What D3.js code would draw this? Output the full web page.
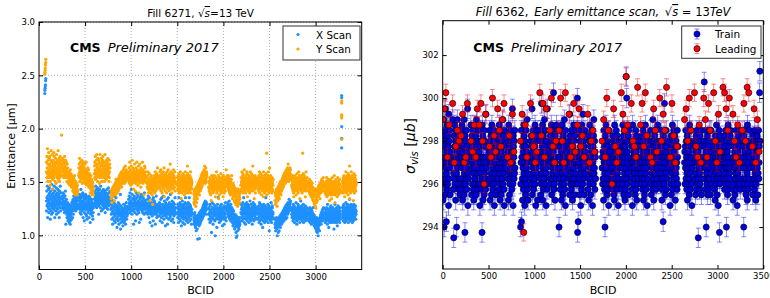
<!DOCTYPE html>
<html>
<head>
<meta charset="utf-8">
<script src="https://cdn.jsdelivr.net/npm/d3@7"></script>
<style>
  body { margin: 0; background: #fff; }
  text { font-family: "DejaVu Sans", sans-serif; fill: #000; }
</style>
</head>
<body>
<svg id="chart" width="770" height="298"></svg>
<script>
// one char per bunch, index into CODE, value = lo + idx * step
const CODE = "0123456789abcdefghijklmnopqrstuvwxyz";

// ---- Fill 6271 emittance (left) ----
const emitTrainStart = [80, 250, 430, 600, 780, 970, 1170, 1300, 1500, 1680, 1840, 2040, 2190, 2370, 2560, 2740, 2920, 3100, 3290];
const emitTrainEnd   = [240, 420, 590, 770, 960, 1160, 1290, 1480, 1660, 1820, 2030, 2180, 2360, 2540, 2730, 2910, 3090, 3270, 3440];
const xScanTrains = [
  "oiuqlxmerpkvnhsowjtlqdmuripgnykslohvqmtjrnxkpeuolqismwgrnkotjpvmhqlsrenuokxpimtq",
  "nrkpltjomsqkhnlriuoamkpjgelhnicfkdmgbjhelacfighkdnjmleoipgkrmnjtlqkosimnpjrlkqom",
  "mqkolsjphrnlvmgqkoinsltjemrkopchqmnjlsgpkrnfmdqjloihnkmrepjlqnbkgmoilhpjnkfldmhk",
  "psnuqlrxotmvkqspnwruolgtqmsvpnrkxotiqsmupnrjolvqtmkpsunhrqoltkpmvsnqjrowlptmnquo",
  "jmgkpdhlaioekhngrcjfmblhqdkig8eljhcnfkaimgdjhs7lbhfiekcgh9jdfmbigckhelajgnhdkfig",
  "lpjrnkhtmqiolvjngskmpilaqnjrohlmcpktnjgqlsmiorkhnbljpmqdknslroimhjqlnkpgtmjlohnk",
  "jmhplgkrinhejqlokbmjgtihlkn9jfmphkcqjligonkhmajljgrkiemhjlkf",
  "ilfnjhcmkpgiejqhbkmilfrjdhoigkl9njfmhekpiagljqmdhkngiefsjlhcmkiogjdlhnkbfjmhiqgk",
  "hkemgjblhqfidjnhgckmfi9lhjeogkbfhmdjlihagkneqjhfcmkgidlhjbgnehkfqimcgjhlkdfiahjg",
  "ecgbahdf9c8bea6cdbfa7ec1bdacegbf9dhcafegbdihcfeigdjfhekgilhfjmgkinhjlkoimjlkgnjm",
  "gkdjhmbfliceh5jgnekhadgmjfihcl3gkdjfh8ekmgiqhdfjbhkgelcifhmdjg9kehijgfaldhkgnejc",
  "iljkgnhmfkhjeoigldhkfjcmgehidkfgbjeh9fdgiacfeb7dcg8ebda5cfb9d3bca6ecb8adc7be9bac",
  "hmejgkclhnfidjqhgbkmeihajlgdfnhkcjimgehlbkgfjdoghcimjekhfagljdnhicgkmfjhleidkgjh",
  "gkdiheljbgnfcjhmgkadifelgh8jckgmeihfbkdlgjqcehgifdkhmbegjlh6fdkgicjehngbiflkdghe",
  "a8d6bc9e7ba3c8db5a9ce6bdcfa8dbegcadfhbecgidfhcjegkfihdlgjkhmeilgknjhmlkpimjlnkoj",
  "gjeikfhcmgdhjlfbigkehdnjgfacihkgmeljdhfigbkhjeodgilfhcjkgehmbfidjgkhflcegjihkdfg",
  "fhcjgdiekbghfcjdaegichdfkbegcd9fbeac8db7ac6e9b5d8a3c7b9da6cebdfcgaehdfigcjehfkgd",
  "ehbjgcfidkhegamfchjd8giefbkhcgeljdfibhegckfhdj7gibemdfhcjgekbfi9ehdlgcjfehkbgifd",
  "gkeihlcfjmgdhkbfiegjnhcgkdlfihmegjbhkfdigpeljhcgkimdfhjegbkilhfcgjmdheikfgjlhdgi"
];
const yScanTrains = [
  "mrjuolyhqsmkwnjtpluqhfoskmxjrnlvdpimsqkowjunlrphmtqlgovkrjmsnlqxiopktmhrjnuloqsk",
  "pqmtnkrosjmqlunpkosmjrlmnhqkoljmghkmiljfkhnigjlhekgjficgdhjebifkcgeahdbfcgeadfbc",
  "kolqjtmhnrkpmilojsnkgqmlprjhmkoinlqgjmkhrlnfjmikgolhjnkeihlfgjbhdkfegciafhbgdcea",
  "lpjrnuimqkslvjopmhtnlqksrmgjovlnpkmtqhrnljsupkolmrhqjnvlpmkoisnlrjqmtknpolhsjmqo",
  "a8cb6dacb9ecadbfc7ebdgaeifchdgbfheicgjdhfkegilfhjgmeikhjglkniholjgkmipjhlnkjmlik",
  "jmhokgrilnjfpkimhsgkolidjnmhqkiclgojmhrinkfljpibmgkqhlnjeomkhilrjgnkhmajlpiokhmj",
  "gjekhmdfibhgclhe7fjdgbhkeicagd5fchjgeidkbhfmjcgiehlfkdjohe",
  "gkeihmdjfnhcgklbiejhfmdkgo9jihcfleghjbkmidgfnhjekcilhgqjdfmehkbigjlfhdnkgiejmhcg",
  "fjdhgkcielfbhgjdmfiec8ghkbjfeidlhgcfjkaeihgmdbhfjcgkeiplhdfbgjheicfkgdhmjebifghd",
  "6a8c5b79d7ac4b9ec6adb8fcaedgbfcehdagfiechgjdfkhegilfhjkgmihlkjnilhpkjmgliokhjmlk",
  "ehcgdjbfiaeh7gkcfdjhbegicfkdhe9gjdfmbhecigdkf8heajgcidhlfbegjcfhd9kiegbdhfjcegin",
  "hkfjgidhkegcjfhbidgeahfcgdibkefca8dgecb9fdac7ebd6ca9bd5c8a7bd9c6a4b8d5ac7b9a6c8b",
  "fjdhgmcieklbfhgjdnfhcgiekbfjhdmgl9iefhcjgkdhbifmegjhcledgfkiphcgjeh8fidkgbhejgfi",
  "fidjhgckemfbhjgdlfieaghkcjfdhgm9eifbkhcgjdhleifagcjhkdfmgibheojcfdkhgiefbjhdgcfi",
  "7b5a9c6d8ba4cb7ed9acfb8dgcebhdafgcehidfjgekhfigljhkmgilkjnhmlkiojmqlkhnjlmkoilnj",
  "fiehkdgcjfb9hgeidkfhcjgaefhldgicjbfhmegkdf8hjeigcfkdhbjgeiflhcgdkejfh9gidmcefhjg",
  "ehcgfdbiecagdhf9cebdga8ec7bd9a6c5b7a4d3b8c6a9b7dac9ebdfaceb8dgcfbhdeicgfedhgjcfe",
  "cfbegadhcjb9fdgeciahbdfc7ebgdiacfh8bdejcgafbdhcekbf6adgcifbhed9gcjfbaehdcgbifcdb",
  "ehcgfjbidkegh9fcjhdgmeibfhckdgjeialhfcgkdp8hejgbficmhdgekfjhcgi7delhfbjgdkehicfg"
];
// first bunches and the late group, read one by one
const earlyBcid = [62, 64, 66, 68, 70, 72, 74];
const xEarly = [2.33, 2.36, 2.38, 2.40, 2.41, 2.45, 2.47];
const yEarly = [2.51, 2.53, 2.55, 2.57, 2.60, 2.62, 2.65];
const lateBcid = 3283;
const xLate = [1.82, 1.91, 2.02, 2.29, 2.31];
const yLate = [1.90, 2.10, 2.12, 2.13, 2.24, 2.26];
const yStray = [[245, 1.94], [2470, 1.77], [2860, 1.77]];
const xStray = [[1740, 0.97], [2140, 0.98]];

// ---- Fill 6362 sigma_vis (right) ----
const visTrainStart = [0, 200, 400, 600, 850, 1060, 1270, 1470, 1740, 1950, 2160, 2370, 2640, 2850, 3060, 3270];
const visTrainEnd   = [190, 390, 590, 790, 1040, 1250, 1460, 1670, 1930, 2140, 2350, 2570, 2830, 3040, 3250, 3465];
const visBatchGap = 22; // empty BCIDs between the two batches of a train
const trainTrains = [
  "g9lcjo4hdmaqfke5ibngclhj8pdkfmaigobhe2ldjncgk9mhe4ifoclgkbhjdmai",
  "hbkdnfi9mcgjaoeh3lckfhdmbjgq8eidnhkaflcjgmbe9hkfndiclgaohjebkfmc",
  "ic8jemgkbhd3nfl9hgcjamekdhbpgjfcidmh9kgleacngihbdfjmc8kehglaidjf",
  "jdlfhbnegk9chmaikfdjgoclehb8jmfgkdih9nelacjgfmdkhibeqgc8ljhdkemf",
  "4cgm5hkd9jfibnelg8khdajmcfiogbe9hkdlcgjqaihfmebkgdjnch8ifkegl9mh",
  "gkdmaicrehjn9flbgkdohcjimf8ekhbqgdjlcihnakdgfmeithbjck9lgfhdnemj",
  "4hdkfbjmci9gnekahfldjcogbh8mkeigdjfaplhcgkbmdie9hjcfnkgdalihemcg",
  "s3c5igdmahkfj8elbnihgcpdkfjahmeigbld9khcnfjgakeimdh8gjcloefkbihd",
  "fhcidk9mgjbe4lhcnifgdakjbhe8mgcifjdlbkhgae9nidfjchmkgbleih8djgfc",
  "ibkfhcnjdlagmeh9jbkfwdsgickehlamfdjgb8nkhcifejhgdakmbli9gchfjdke",
  "fjcheldgbkmi9fhdajcgnekbhfi8ldjgcmhkaeifgbojdk9hclemfgibjhcdkfne",
  "hkcgemdj9bfih5ldkcrhfgaiembjdhkf8gcilaejhnbfkdmgiclh9jekfdgbmhcj",
  "gicjfmdkhbel9jgcfidahnkegbjmhc8fkdjgiaelbhmkcgdi2jfhkbelcgjdfamh",
  "hkvdjgbmfi4ekcgladhjbfmdkgieacmhjdfkbg9lhiecnfkajdg8ihem3cflhdgj",
  "gkdhiebljfcmgh4dkfiabnhcjgfekdlmb9hgcjfiakdemhgbjf8ckeilhdgmfjcb",
  "hdkfjg4lcmbigkdafjhe9nckgbidhmfjcaligkdhfbmekj9cghdlfiaekmdgjtxk"
];
const leadingTrains = [
  "oqthnrgjmk", "lpghrkinhq", "nrkcpjhsli", "qmjorhlgpi",
  "kp3nhrljgi", "tlrhqmsjgk", "mskgtphjri", "nqjlhpgkmi",
  "kohsmcqjgi", "tpmwnrkjhu", "nrjtlhgqmi", "skpmuhrlgj",
  "oqksmtjhng", "sohrmtkgpi", "utqmspkhng", "mrkutjqgoi"
];
const trainErr = 0.45;
const leadingErr = 0.4;

// spread each train's bunches from start to end; the second half sits after a gap
function unpack(starts, ends, strings, lo, step, gap) {
  const out = [];
  gap = gap || 0;
  strings.forEach(function(s, t) {
    const n = s.length;
    for (let i = 0; i < n; i++) {
      const second = gap && i >= n / 2 ? gap : 0;
      out.push({
        bcid: starts[t] + (ends[t] - starts[t] - gap) * i / (n - 1) + second,
        value: lo + CODE.indexOf(s[i]) * step
      });
    }
  });
  return out;
}

const xScan = unpack(emitTrainStart, emitTrainEnd, xScanTrains, 0.95, 0.0155)
  .concat(earlyBcid.map(function(b, i) { return {bcid: b, value: xEarly[i]}; }))
  .concat(xLate.map(function(v) { return {bcid: lateBcid, value: v}; }))
  .concat(xStray.map(function(d) { return {bcid: d[0], value: d[1]}; }));
const yScan = unpack(emitTrainStart, emitTrainEnd, yScanTrains, 1.20, 0.018)
  .concat(earlyBcid.map(function(b, i) { return {bcid: b, value: yEarly[i]}; }))
  .concat(yLate.map(function(v) { return {bcid: lateBcid, value: v}; }))
  .concat(yStray.map(function(d) { return {bcid: d[0], value: d[1]}; }));
const train = unpack(visTrainStart, visTrainEnd, trainTrains, 293, 0.25, visBatchGap);
const leading = unpack(visTrainStart, visTrainEnd.map(function(e) { return e - 12; }), leadingTrains, 293, 0.25, visBatchGap);

const svg = d3.select("#chart");

function drawAxes(g, x, y, box, xVals, yVals, yFmt) {
  const fnt = function(sel) {
    sel.attr('font-family', '"DejaVu Sans", sans-serif').attr('font-size', 8.5);
    sel.select('.domain').remove();
    sel.selectAll('.tick line').attr('stroke', '#000');
    sel.selectAll('.tick text').attr('fill', '#111');
  };
  g.append('g').attr('transform', 'translate(0,' + box.y1 + ')')
    .call(d3.axisBottom(x).tickValues(xVals).tickSize(-4).tickPadding(4).tickFormat(d3.format('d'))).call(fnt);
  g.append('g').attr('transform', 'translate(0,' + box.y0 + ')')
    .call(d3.axisTop(x).tickValues(xVals).tickSize(-4).tickFormat('')).call(fnt);
  g.append('g').attr('transform', 'translate(' + box.x0 + ',0)')
    .call(d3.axisLeft(y).tickValues(yVals).tickSize(-4).tickPadding(4).tickFormat(yFmt)).call(fnt);
  g.append('g').attr('transform', 'translate(' + box.x1 + ',0)')
    .call(d3.axisRight(y).tickValues(yVals).tickSize(-4).tickFormat('')).call(fnt);
  g.append('rect')
    .attr('x', box.x0).attr('y', box.y0)
    .attr('width', box.x1 - box.x0).attr('height', box.y1 - box.y0)
    .attr('fill', 'none').attr('stroke', '#000').attr('stroke-width', 1);
}

function cmsLabel(g, x, y, gap) {
  const t = g.append('text').attr('x', x).attr('y', y);
  t.append('tspan').attr('font-weight', 'bold').attr('font-size', 12.5).text('CMS');
  t.append('tspan').attr('dx', gap).attr('font-style', 'italic').attr('font-size', 13).text('Preliminary 2017');
}

// ================= left: emittance =================
const boxL = {x0: 39, x1: 361.7, y0: 22, y1: 269.5};
const xL = d3.scaleLinear().domain([0, 3500]).range([boxL.x0, boxL.x1]);
const yL = d3.scaleLinear().domain([0.68, 3.0]).range([boxL.y1, boxL.y0]);
const gL = svg.append('g');
const xTicksL = [0, 500, 1000, 1500, 2000, 2500, 3000];
const yTicksL = [1.0, 1.5, 2.0, 2.5, 3.0];

// grid
gL.selectAll('line.gx').data(xTicksL.slice(1)).enter().append('line')
  .attr('x1', function(d) { return xL(d); }).attr('x2', function(d) { return xL(d); })
  .attr('y1', boxL.y0).attr('y2', boxL.y1)
  .attr('stroke', '#999').attr('stroke-width', 0.8).attr('stroke-dasharray', '1,2');
gL.selectAll('line.gy').data(yTicksL).enter().append('line')
  .attr('x1', boxL.x0).attr('x2', boxL.x1)
  .attr('y1', function(d) { return yL(d); }).attr('y2', function(d) { return yL(d); })
  .attr('stroke', '#999').attr('stroke-width', 0.8).attr('stroke-dasharray', '1,2');

gL.append('g').selectAll('circle').data(xScan).enter().append('circle')
  .attr('cx', function(d) { return xL(d.bcid); })
  .attr('cy', function(d) { return yL(d.value); })
  .attr('r', 1.6).attr('fill', '#1e90ff');
gL.append('g').selectAll('circle').data(yScan).enter().append('circle')
  .attr('cx', function(d) { return xL(d.bcid); })
  .attr('cy', function(d) { return yL(d.value); })
  .attr('r', 1.6).attr('fill', '#ffa500');

drawAxes(gL, xL, yL, boxL, xTicksL, yTicksL, d3.format('.1f'));

const titleL = gL.append('text').attr('x', 200.5).attr('y', 17).attr('text-anchor', 'middle').attr('font-size', 10.5);
titleL.append('tspan').text('Fill  6271, \u221A');
titleL.append('tspan').attr('font-style', 'italic').style('text-decoration', 'overline').text('s');
titleL.append('tspan').text('=13 TeV');

gL.append('text').attr('x', 200.5).attr('y', 294).attr('text-anchor', 'middle').attr('font-size', 11).text('BCID');
gL.append('text').attr('transform', 'translate(15,146) rotate(-90)').attr('text-anchor', 'middle')
  .attr('font-size', 11).text('Emittance [\u03BCm]');

cmsLabel(gL, 70, 52, 7);

// legend
gL.append('rect').attr('x', 283).attr('y', 26).attr('width', 77).attr('height', 34)
  .attr('fill', '#fff').attr('stroke', '#333').attr('stroke-width', 1);
const legL = [{name: 'X Scan', color: '#1e90ff'}, {name: 'Y Scan', color: '#ffa500'}];
legL.forEach(function(d, i) {
  gL.append('circle').attr('cx', 298).attr('cy', 34.5 + i * 14.5).attr('r', 1.6).attr('fill', d.color);
  gL.append('text').attr('x', 316).attr('y', 38.5 + i * 14.5).attr('font-size', 10.4).text(d.name);
});

// ================= right: sigma_vis =================
const boxR = {x0: 442.7, x1: 763.3, y0: 20.7, y1: 269};
const xR = d3.scaleLinear().domain([0, 3500]).range([boxR.x0, boxR.x1]);
const yR = d3.scaleLinear().domain([292.05, 303.6]).range([boxR.y1, boxR.y0]);
const gR = svg.append('g');

svg.append('clipPath').attr('id', 'clipR').append('rect')
  .attr('x', boxR.x0).attr('y', boxR.y0).attr('width', boxR.x1 - boxR.x0).attr('height', boxR.y1 - boxR.y0);

function errorSeries(g, data, err, barColor, fill) {
  const s = g.append('g').attr('clip-path', 'url(#clipR)');
  const bars = s.append('g').attr('stroke', barColor).attr('stroke-opacity', 0.45).attr('stroke-width', 1);
  bars.selectAll('path').data(data).enter().append('path')
    .attr('d', function(d) {
      const x = xR(d.bcid), a = yR(d.value + err), b = yR(d.value - err);
      return 'M' + x + ',' + a + 'V' + b + 'M' + (x - 2.5) + ',' + a + 'H' + (x + 2.5) + 'M' + (x - 2.5) + ',' + b + 'H' + (x + 2.5);
    });
  s.append('g').selectAll('circle').data(data).enter().append('circle')
    .attr('cx', function(d) { return xR(d.bcid); })
    .attr('cy', function(d) { return yR(d.value); })
    .attr('r', 3.1).attr('fill', fill).attr('stroke', '#000020').attr('stroke-width', 0.6);
}

errorSeries(gR, train, trainErr, '#0000ff', '#0000dd');
errorSeries(gR, leading, leadingErr, '#ff0000', '#ff0000');

drawAxes(gR, xR, yR, boxR, [0, 500, 1000, 1500, 2000, 2500, 3000, 3500], [294, 296, 298, 300, 302], d3.format('d'));

const titleR = gR.append('text').attr('x', 603).attr('y', 16).attr('text-anchor', 'middle')
  .attr('font-family', '"Liberation Serif", serif').attr('font-size', 11.5);
titleR.append('tspan').attr('font-style', 'italic').text('Fill ');
titleR.append('tspan').text('6362,');
titleR.append('tspan').attr('font-style', 'italic').text('\u2002Early emittance scan,\u2002');
titleR.append('tspan').text('\u221A');
titleR.append('tspan').attr('font-style', 'italic').style('text-decoration', 'overline').text('s');
titleR.append('tspan').text(' = 13');
titleR.append('tspan').attr('font-style', 'italic').text('TeV');

gR.append('text').attr('x', 603).attr('y', 294).attr('text-anchor', 'middle').attr('font-size', 11).text('BCID');
const ylabR = gR.append('text').attr('transform', 'translate(415,146) rotate(-90)').attr('text-anchor', 'middle')
  .attr('font-family', '"Liberation Serif", serif').attr('font-size', 14);
ylabR.append('tspan').attr('font-style', 'italic').text('\u03C3');
ylabR.append('tspan').attr('font-style', 'italic').attr('font-size', 10).attr('dy', 3).text('vis');
ylabR.append('tspan').attr('dy', -3).text(' [');
ylabR.append('tspan').attr('font-style', 'italic').text('\u03BCb');
ylabR.append('tspan').text(']');

cmsLabel(gR, 473.3, 52, 7);

gR.append('rect').attr('x', 681.7).attr('y', 26).attr('width', 79.3).attr('height', 32.3)
  .attr('fill', '#fff').attr('stroke', '#333').attr('stroke-width', 1);
const legR = [{name: 'Train', color: '#0000dd', bar: '#0000ff'}, {name: 'Leading', color: '#ff0000', bar: '#ff0000'}];
legR.forEach(function(d, i) {
  const cy = 34 + i * 14.7;
  gR.append('path')
    .attr('d', 'M697,' + (cy - 5) + 'V' + (cy + 5) + 'M694.5,' + (cy - 5) + 'H699.5M694.5,' + (cy + 5) + 'H699.5')
    .attr('stroke', d.bar).attr('stroke-opacity', 0.45).attr('fill', 'none');
  gR.append('circle').attr('cx', 697).attr('cy', cy).attr('r', 3.1).attr('fill', d.color)
    .attr('stroke', '#000020').attr('stroke-width', 0.6);
  gR.append('text').attr('x', 715).attr('y', cy + 4).attr('font-size', 10.5).text(d.name);
});
</script>
</body>
</html>
